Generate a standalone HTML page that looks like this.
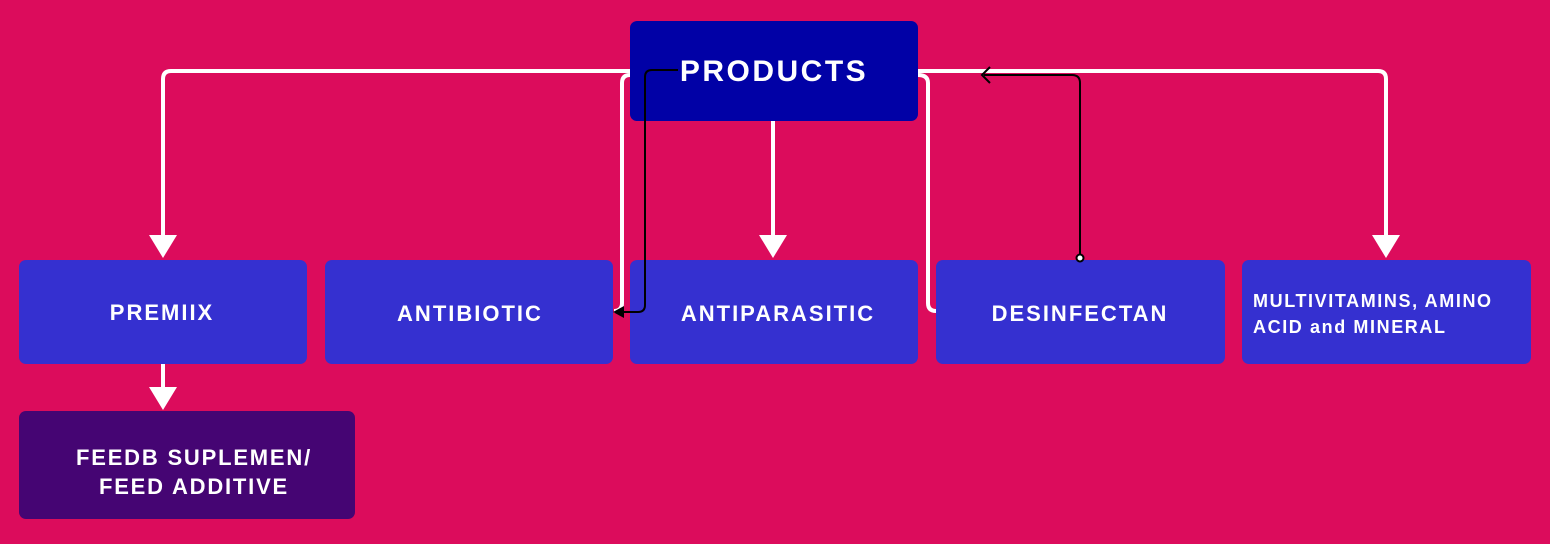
<!DOCTYPE html>
<html><head><meta charset="utf-8"><style>
html,body{margin:0;padding:0;background:#dc0c5c;}
svg{display:block}
text{font-family:"Liberation Sans",sans-serif;font-weight:bold;fill:#fff;}
</style></head><body>
<svg width="1550" height="544" viewBox="0 0 1550 544" xmlns="http://www.w3.org/2000/svg">
<rect width="1550" height="544" fill="#dc0c5c"/>
<g fill="none" stroke="#fff" stroke-width="4">
<path d="M630 71 H171 Q163 71 163 79 V238"/>
<path d="M630 75 H630 Q622 75 622 83 V303 Q622 311 614 311"/>
<path d="M773 121 V238"/>
<path d="M918 71 H1378 Q1386 71 1386 79 V238"/>
<path d="M918 75 Q928 75 928 83 V303 Q928 311 936 311"/>
<path d="M163 364 V390"/>
</g>
<g fill="#fff">
<polygon points="149,235 177,235 163,258"/>
<polygon points="759,235 787,235 773,258"/>
<polygon points="1372,235 1400,235 1386,258"/>
<polygon points="149,387 177,387 163,410"/>
</g>
<rect x="630" y="21" width="288" height="100" rx="7" fill="#0101a6"/>
<rect x="19" y="260" width="288" height="104" rx="7" fill="#3530d0"/>
<rect x="325" y="260" width="288" height="104" rx="7" fill="#3530d0"/>
<rect x="630" y="260" width="288" height="104" rx="7" fill="#3530d0"/>
<rect x="936" y="260" width="289" height="104" rx="7" fill="#3530d0"/>
<rect x="1242" y="260" width="289" height="104" rx="7" fill="#3530d0"/>
<rect x="19" y="411" width="336" height="108" rx="7" fill="#450573"/>
<g fill="none" stroke="#000" stroke-width="2">
<path d="M678 70 H652 Q645 70 645 77 V305 Q645 312 638 312 H620"/>
<path d="M1080 258 V83 Q1080 75 1072 75 H984"/>
<path d="M990 67 L982 75 L990 83"/>
</g>
<polygon points="613,312 624,306 624,318" fill="#000"/>
<circle cx="1080" cy="258" r="3.5" fill="#fff" stroke="#000" stroke-width="2"/>
<text x="774" y="81" font-size="30" text-anchor="middle" letter-spacing="2.5">PRODUCTS</text>
<text x="162" y="320" font-size="22" text-anchor="middle" letter-spacing="2">PREMIIX</text>
<text x="470" y="321" font-size="22" text-anchor="middle" letter-spacing="2">ANTIBIOTIC</text>
<text x="778" y="321" font-size="22" text-anchor="middle" letter-spacing="2">ANTIPARASITIC</text>
<text x="1080" y="321" font-size="22" text-anchor="middle" letter-spacing="2">DESINFECTAN</text>
<text x="1253" y="307" font-size="18" letter-spacing="1.6">MULTIVITAMINS,  AMINO</text>
<text x="1253" y="333" font-size="18" letter-spacing="1.6">ACID and MINERAL</text>
<text x="194" y="465" font-size="22" text-anchor="middle" letter-spacing="1.8">FEEDB SUPLEMEN/</text>
<text x="194" y="494" font-size="22" text-anchor="middle" letter-spacing="1.8">FEED ADDITIVE</text>
</svg>
</body></html>
